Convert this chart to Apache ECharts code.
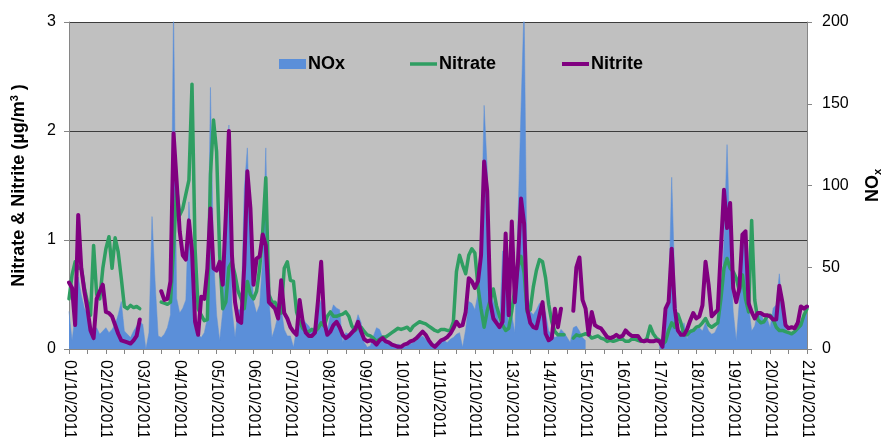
<!DOCTYPE html>
<html>
<head>
<meta charset="utf-8">
<script src="https://cdn.jsdelivr.net/npm/echarts@6/dist/echarts.min.js"></script>
<style>
  html, body { margin: 0; padding: 0; background: #ffffff; }
  #chart { width: 882px; height: 437px; }
</style>
</head>
<body>
<div id="chart"></div>
<script>
// Daily tick labels along the time axis
const dateLabels = [
  '01/10/2011', '02/10/2011', '03/10/2011', '04/10/2011', '05/10/2011', '06/10/2011', '07/10/2011',
  '08/10/2011', '09/10/2011', '10/10/2011', '11/10/2011', '12/10/2011', '13/10/2011', '14/10/2011',
  '15/10/2011', '16/10/2011', '17/10/2011', '18/10/2011', '19/10/2011', '20/10/2011', '21/10/2011'
];

// Samples are every 2 hours from 01/10/2011 00:00 (12 values per day row)
const stepHours = 2;

// NOx (right axis)
const noxValues = [
  23, 5, 21, 44, 33, 25, 21, 8, 11, 13, 9, 11,
  13, 10, 12, 15, 21, 29, 11, 9, 7, 11, 14, 17,
  15, 0, 10, 81, 41, 8, 7, 9, 13, 21, 210, 31,
  22, 25, 30, 90, 55, 11, 9, 7, 10, 19, 160, 57,
  21, 5, 23, 72, 137, 25, 7, 24, 24, 98, 123, 64,
  29, 22, 27, 55, 123, 31, 7, 13, 21, 25, 12, 8,
  8, 1, 12, 17, 19, 16, 14, 11, 14, 25, 30, 14,
  11, 21, 27, 25, 24, 4, 10, 9, 12, 14, 21, 16,
  4, 1, 2, 8, 13, 12, 7, 4, 3, 2, 2, 3,
  2, 1, 2, 3, 4, 5, 7, 8, 6, 4, 3, 3,
  4, 5, 5, 4, 6, 7, 9, 10, 1, 12, 29, 28,
  24, 34, 66, 149, 110, 35, 29, 25, 13, 60, 40, 12,
  21, 10, 78, 147, 210, 35, 23, 21, 24, 28, 27, 22,
  11, 9, 7, 8, 12, 10, 7, 4, 13, 14, 11, 7,
  5, null, null, null, null, null, null, null, null, null, null, null,
  null, null, null, null, null, null, null, null, null, null, null, null,
  2, 9, 15, 29, 105, 41, 8, 10, 16, 6, 12, 12,
  12, 13, 11, 16, 11, 9, 10, 14, 25, 66, 125, 64,
  23, 5, 29, 62, 68, 27, 11, 14, 23, 22, 17, 19,
  13, 25, 27, 46, 25, 13, 9, 9, 11, 14, 16, 20,
  24
];

// Nitrate (left axis, µg/m³)
const nitrateValues = [
  0.46, 0.68, 0.80, 0.74, 0.74, 0.56, 0.43, 0.31, 0.95, 0.50, 0.46, 0.74,
  0.92, 1.03, 0.74, 1.02, 0.89, 0.65, 0.39, 0.37, 0.40, 0.38, 0.39, 0.37,
  null, null, null, null, null, null, 0.43, 0.42, 0.41, 0.43, 0.92, 1.47,
  1.23, 1.29, 1.42, 1.55, 2.43, 0.92, 0.37, 0.31, 0.26, 0.27, 1.60, 2.10,
  1.81, 0.86, 0.37, 0.43, 0.75, 0.80, 0.68, 0.53, 0.46, 0.37, 0.62, 0.50,
  0.46, 0.53, 0.74, 1.08, 1.57, 0.50, 0.43, 0.43, 0.37, 0.33, 0.74, 0.80,
  0.63, 0.62, 0.34, 0.25, 0.19, 0.16, 0.16, 0.18, 0.16, 0.19, 0.24, 0.21,
  0.30, 0.34, 0.30, 0.30, 0.31, 0.32, 0.34, 0.30, 0.21, 0.17, 0.20, 0.20,
  0.16, 0.13, 0.12, 0.10, 0.07, 0.09, 0.11, 0.11, 0.13, 0.15, 0.17, 0.19,
  0.18, 0.19, 0.20, 0.17, 0.21, 0.23, 0.25, 0.24, 0.23, 0.21, 0.19, 0.17,
  0.16, 0.18, 0.18, 0.17, 0.17, 0.25, 0.71, 0.86, 0.77, 0.69, 0.86, 0.92,
  0.88, 0.57, 0.37, 0.20, 0.35, 0.45, 0.55, 0.40, 0.30, 0.22, 0.17, 0.19,
  0.35, 0.55, 0.75, 0.85, 0.70, 0.34, 0.36, 0.57, 0.72, 0.82, 0.80, 0.65,
  0.41, 0.25, 0.16, 0.13, 0.13, 0.13, null, null, 0.10, 0.13, 0.12, 0.13,
  0.14, 0.13, 0.10, 0.11, 0.12, 0.10, 0.09, 0.07, 0.08, 0.07, 0.08, 0.09,
  0.09, 0.07, 0.07, 0.09, 0.09, 0.08, 0.07, 0.07, 0.10, 0.21, 0.14, 0.10,
  0.08, 0.04, 0.07, 0.17, 0.24, 0.20, 0.32, 0.24, 0.13, 0.13, 0.16, 0.17,
  0.20, 0.21, 0.24, 0.28, 0.22, 0.20, 0.22, 0.24, 0.46, 0.74, 0.83, 0.74,
  0.71, 0.65, 0.53, 0.68, 0.46, 0.34, 1.18, 0.45, 0.27, 0.24, 0.25, 0.30,
  0.31, 0.27, 0.20, 0.17, 0.17, 0.16, 0.15, 0.14, 0.16, 0.19, 0.22, 0.31,
  0.37
];

// Nitrite (left axis, µg/m³)
const nitriteValues = [
  0.61, 0.56, 0.22, 1.23, 0.74, 0.53, 0.37, 0.17, 0.10, 0.46, 0.53, 0.59,
  0.34, 0.33, 0.30, 0.22, 0.14, 0.08, 0.07, 0.06, 0.05, 0.08, 0.12, 0.27,
  null, null, null, null, null, null, 0.53, 0.45, 0.46, 0.62, 1.98, 1.54,
  1.08, 0.86, 0.82, 1.18, 0.90, 0.25, 0.13, 0.48, 0.46, 0.74, 1.29, 0.74,
  0.72, 0.80, 0.59, 1.23, 2.00, 0.86, 0.43, 0.26, 0.24, 0.77, 1.63, 1.29,
  0.59, 0.83, 0.85, 1.05, 0.95, 0.43, 0.40, 0.37, 0.28, 0.63, 0.33, 0.28,
  0.20, 0.16, 0.13, 0.45, 0.25, 0.15, 0.12, 0.12, 0.15, 0.45, 0.80, 0.25,
  0.13, 0.16, 0.22, 0.25, 0.20, 0.13, 0.10, 0.12, 0.15, 0.18, 0.25, 0.16,
  0.09, 0.07, 0.08, 0.07, 0.04, 0.08, 0.10, 0.07, 0.06, 0.04, 0.03, 0.02,
  0.02, 0.04, 0.05, 0.07, 0.08, 0.10, 0.13, 0.16, 0.13, 0.08, 0.04, 0.02,
  0.05, 0.08, 0.09, 0.11, 0.14, 0.19, 0.25, 0.21, 0.22, 0.34, 0.65, 0.62,
  0.56, 0.62, 0.86, 1.72, 1.45, 0.43, 0.28, 0.24, 0.20, 0.25, 1.06, 0.31,
  1.17, 0.43, 0.80, 1.38, 1.15, 0.37, 0.24, 0.20, 0.19, 0.31, 0.43, 0.14,
  0.08, 0.10, 0.37, 0.20, 0.37, null, null, null, 0.35, 0.75, 0.84, 0.45,
  0.37, 0.13, 0.34, 0.22, 0.20, 0.19, 0.15, 0.11, 0.10, 0.11, 0.13, 0.11,
  0.12, 0.17, 0.14, 0.12, 0.12, 0.12, 0.08, 0.07, 0.08, 0.07, 0.07, 0.08,
  0.07, 0.02, 0.37, 0.43, 0.92, 0.37, 0.17, 0.13, 0.13, 0.18, 0.26, 0.33,
  0.28, 0.30, 0.40, 0.80, 0.59, 0.30, 0.33, 0.36, 0.92, 1.46, 1.11, 1.34,
  0.56, 0.43, 0.56, 1.05, 1.08, 0.42, 0.34, 0.28, 0.33, 0.33, 0.31, 0.31,
  0.30, 0.27, 0.27, 0.58, 0.43, 0.22, 0.19, 0.20, 0.19, 0.24, 0.39, 0.37,
  0.39
];

const COLORS = { nox: '#5b8fd9', nitrate: '#2f9e62', nitrite: '#800080' };
const FONT = "'Liberation Sans', Arial, Helvetica, sans-serif";
const AXIS_GREY = '#868686';

function withHours(values) {
  return values.map((v, i) => [i * stepHours, v]);
}

const legendText = {
  fontFamily: FONT, fontSize: 18, fontWeight: 'bold', color: '#000',
  padding: [0, 0, 0, -3]
};

function legendFor(name, left, iconHeight) {
  return {
    data: [{ name: name, icon: 'rect' }],
    left: left, top: 55, padding: 0,
    itemWidth: 27, itemHeight: iconHeight,
    itemStyle: { borderWidth: 0 },
    textStyle: legendText
  };
}

const chart = echarts.init(document.getElementById('chart'), null, { renderer: 'canvas' });

chart.setOption({
  animation: false,
  backgroundColor: '#ffffff',
  grid: {
    left: 69, right: 75, top: 22, bottom: 88,
    outerBoundsMode: 'none', containLabel: false,
    show: true, backgroundColor: '#c0c0c0', borderWidth: 0
  },
  legend: [
    legendFor('NOx', 279, 10),
    legendFor('Nitrate', 410, 3.5),
    legendFor('Nitrite', 562, 4)
  ],
  xAxis: {
    type: 'value', min: 0, max: 480, interval: 24,
    axisLine: { lineStyle: { color: AXIS_GREY, width: 1 } },
    axisTick: { show: true, length: 5, lineStyle: { color: AXIS_GREY } },
    minorTick: { show: true, splitNumber: 2, length: 5, lineStyle: { color: AXIS_GREY } },
    splitLine: { show: false },
    axisLabel: {
      rotate: -90, margin: 11, fontFamily: FONT, fontSize: 16, color: '#000',
      formatter: (v) => dateLabels[Math.round(v / 24)]
    }
  },
  yAxis: [
    {
      type: 'value', min: 0, max: 3, interval: 1, position: 'left',
      name: '{a|Nitrate & Nitrite (µg/m}{s|3}{a| )}',
      nameLocation: 'middle', nameGap: 40,
      nameTextStyle: {
        rich: {
          a: { fontFamily: FONT, fontSize: 18, fontWeight: 'bold', color: '#000', lineHeight: 20 },
          s: { fontFamily: FONT, fontSize: 11, fontWeight: 'bold', color: '#000', verticalAlign: 'top', lineHeight: 20 }
        }
      },
      axisLine: { show: true, lineStyle: { color: AXIS_GREY } },
      axisTick: { show: true, length: 5, lineStyle: { color: AXIS_GREY } },
      splitLine: { show: true, lineStyle: { color: '#3c3c3c', width: 1 } },
      axisLabel: { margin: 13, fontFamily: FONT, fontSize: 16, color: '#000' }
    },
    {
      type: 'value', min: 0, max: 200, interval: 50, position: 'right',
      name: '{a|NO}{b|x}',
      nameLocation: 'middle', nameGap: 56,
      nameTextStyle: {
        rich: {
          a: { fontFamily: FONT, fontSize: 18, fontWeight: 'bold', color: '#000', lineHeight: 20 },
          b: { fontFamily: FONT, fontSize: 11, fontWeight: 'bold', color: '#000', verticalAlign: 'bottom', lineHeight: 20 }
        }
      },
      axisLine: { show: true, lineStyle: { color: AXIS_GREY } },
      axisTick: { show: true, length: 5, lineStyle: { color: AXIS_GREY } },
      splitLine: { show: false },
      axisLabel: { margin: 15, fontFamily: FONT, fontSize: 16, color: '#000' }
    }
  ],
  series: [
    {
      name: 'NOx', type: 'line', yAxisIndex: 1, data: withHours(noxValues),
      showSymbol: false, connectNulls: false, clip: true,
      color: COLORS.nox,
      lineStyle: { width: 0.5, color: COLORS.nox },
      areaStyle: { color: COLORS.nox, opacity: 1 },
      z: 1
    },
    {
      name: 'Nitrate', type: 'line', yAxisIndex: 0, data: withHours(nitrateValues),
      showSymbol: false, connectNulls: false, clip: true,
      color: COLORS.nitrate,
      lineStyle: { width: 3.5, color: COLORS.nitrate, join: 'round', cap: 'round' },
      z: 2
    },
    {
      name: 'Nitrite', type: 'line', yAxisIndex: 0, data: withHours(nitriteValues),
      showSymbol: false, connectNulls: false, clip: true,
      color: COLORS.nitrite,
      lineStyle: { width: 4, color: COLORS.nitrite, join: 'round', cap: 'round' },
      z: 3
    }
  ]
});
</script>
</body>
</html>
